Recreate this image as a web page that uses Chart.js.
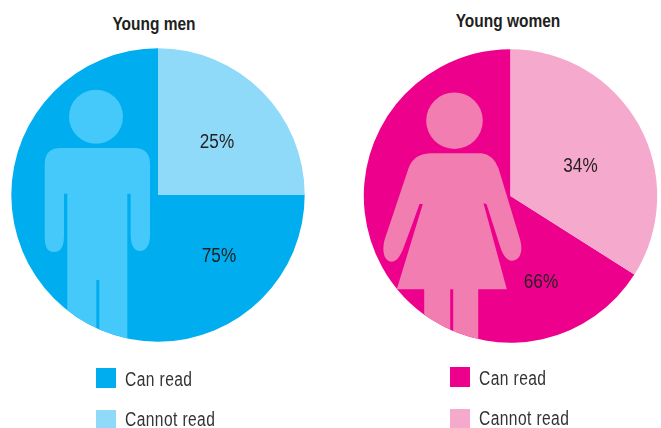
<!DOCTYPE html>
<html>
<head>
<meta charset="utf-8">
<title>Young men and women who can read</title>
<script src="https://cdn.jsdelivr.net/npm/chart.js@4"></script>
<style>
    html, body { margin: 0; padding: 0; background: #fff; }
    body { position: relative; width: 661px; height: 428px; overflow: hidden; font-family: "Liberation Sans", sans-serif; color: #333; }
    canvas { position: absolute; top: 0; }
    #menChart { left: 0; }
    #womenChart { left: 340px; }
    /* no condensed font installed, so squeeze the regular one */
    .pie-title { position: absolute; font-weight: bold; font-size: 18px; color: #231f20; transform: translateX(-50%) scaleX(0.86); white-space: nowrap; }
    .legend-item { position: absolute; height: 20px; line-height: 20px; font-size: 19.5px; white-space: nowrap; }
    .legend-item i { position: absolute; left: 0; top: 0; width: 20px; height: 20px; }
    .legend-item span { position: absolute; left: 28.5px; top: 1px; letter-spacing: 0.5px; transform: scaleX(0.8); transform-origin: left center; }
    .legend-item:nth-child(even) span { top: -1px; }
</style>
</head>
<body>
<div class="pie-title" style="left:154px;top:14px" id="menTitle"></div>
<div class="pie-title" style="left:508px;top:11px" id="womenTitle"></div>
<canvas id="menChart" width="316" height="390"></canvas>
<canvas id="womenChart" width="341" height="392"></canvas>
<div id="legends"></div>
<script>
// Values
const categories = ['Can read', 'Cannot read'];
const menValues = [75, 25];
const womenValues = [66, 34];
const chartTitles = ['Young men', 'Young women'];

const menColors = ['#00aeef', '#8fd9f9'];
const womenColors = ['#ec008c', '#f5a9cc'];
const menFigureColor = '#45c8fa';
const womenFigureColor = '#f27db0';

// Figures are drawn behind the labels, relative to the pie centre, clipped to the circle
function drawMan(c) {
    c.beginPath();
    c.arc(-62, -78.3, 27, 0, Math.PI * 2);
    c.fill();

    c.beginPath();
    c.moveTo(-113.3, -31);
    c.quadraticCurveTo(-113.3, -47, -97, -47);
    c.lineTo(-24, -47);
    c.quadraticCurveTo(-8, -47, -8, -31);
    c.lineTo(-8, 40);
    c.bezierCurveTo(-8, 50, -12, 56, -18, 56);
    c.bezierCurveTo(-24, 56, -27.3, 50, -27.3, 40);
    c.lineTo(-27.3, -1.3);
    c.lineTo(-30.7, -1.3);
    c.lineTo(-30.7, 180);
    c.lineTo(-90.7, 180);
    c.lineTo(-90.7, -1.3);
    c.lineTo(-94, -1.3);
    c.lineTo(-94, 40);
    c.bezierCurveTo(-94, 52, -97, 57, -104, 57);
    c.bezierCurveTo(-111, 57, -113.3, 52, -113.3, 40);
    c.closePath();
    c.fill();
}

function drawWoman(c) {
    c.beginPath();
    c.arc(-56, -75.3, 28.3, 0, Math.PI * 2);
    c.fill();

    c.beginPath();
    c.moveTo(-80.3, -42.7);
    c.lineTo(-28.7, -42.7);
    c.quadraticCurveTo(-17, -41, -12, -27.7);
    c.lineTo(9.7, 44);
    c.bezierCurveTo(13, 56, 9, 64.7, 1.3, 64.7);
    c.bezierCurveTo(-4, 64.7, -8, 58, -10.3, 50.7);
    c.lineTo(-24, 8);
    c.lineTo(-27, 7.3);
    c.lineTo(-3.7, 93.3);
    c.lineTo(-32.3, 93.3);
    c.lineTo(-32.3, 180);
    c.lineTo(-86.3, 180);
    c.lineTo(-86.3, 93.3);
    c.lineTo(-113.7, 93.3);
    c.lineTo(-87.7, 8);
    c.lineTo(-91, 8);
    c.quadraticCurveTo(-98, 28, -105.3, 47.3);
    c.bezierCurveTo(-109, 58, -113, 65.7, -118.7, 65.7);
    c.bezierCurveTo(-126, 65.7, -129, 56, -126, 44);
    c.lineTo(-102, -27.7);
    c.quadraticCurveTo(-97, -42, -80.3, -42.7);
    c.closePath();
    c.fill();
}

const pieDecor = {
    id: 'pieDecor',
    afterDatasetsDraw(chart, args, opts) {
        const arc = chart.getDatasetMeta(0).data[0];
        const c = chart.ctx;
        c.save();
        c.translate(arc.x, arc.y);

        c.save();
        c.beginPath();
        c.arc(0, 0, arc.outerRadius, 0, Math.PI * 2);
        c.clip();
        c.fillStyle = opts.figureColor;
        opts.figure(c);
        // slit between the legs
        c.fillStyle = opts.slitColor;
        c.fillRect(opts.legSlit[0], opts.legSlit[1], 3, 180);
        c.restore();

        c.fillStyle = '#231f20';
        c.font = '19.5px "Liberation Sans", sans-serif';
        c.textAlign = 'center';
        c.textBaseline = 'middle';
        chart.data.datasets[0].data.forEach((v, i) => {
            c.save();
            c.translate(opts.labelAt[i][0], opts.labelAt[i][1]);
            c.scale(0.88, 1);
            c.fillText(v + '%', 0, 0);
            c.restore();
        });
        c.restore();
    }
};

function makePie(id, values, colors, decor) {
    return new Chart(document.getElementById(id), {
        type: 'pie',
        data: {
            labels: categories,
            datasets: [{ data: values, backgroundColor: colors, borderWidth: 0 }]
        },
        options: {
            responsive: false,
            animation: false,
            radius: 146.7,
            // "Can read" ends at 12 o'clock
            rotation: values[1] / (values[0] + values[1]) * 360,
            plugins: { legend: { display: false }, tooltip: { enabled: false }, pieDecor: decor }
        },
        plugins: [pieDecor]
    });
}

const menChart = makePie('menChart', menValues, menColors, {
    figure: drawMan, figureColor: menFigureColor, slitColor: menColors[0],
    legSlit: [-61.7, 85], labelAt: [[61, 61.5], [59, -52]]
});
const womenChart = makePie('womenChart', womenValues, womenColors, {
    figure: drawWoman, figureColor: womenFigureColor, slitColor: womenColors[0],
    legSlit: [-60.3, 93.3], labelAt: [[30.5, 86.5], [70, -29.5]]
});

document.getElementById('menTitle').textContent = chartTitles[0];
document.getElementById('womenTitle').textContent = chartTitles[1];

// HTML legends built from the chart data
function buildLegend(chart, left, tops) {
    const holder = document.getElementById('legends');
    chart.data.labels.forEach((label, i) => {
        const item = document.createElement('div');
        item.className = 'legend-item';
        item.style.left = left + 'px';
        item.style.top = tops[i] + 'px';
        item.innerHTML = `<i style="background:${chart.data.datasets[0].backgroundColor[i]}"></i><span>${label}</span>`;
        holder.appendChild(item);
    });
}
buildLegend(menChart, 96, [368, 410]);
buildLegend(womenChart, 450, [367, 409]);
</script>
</body>
</html>
